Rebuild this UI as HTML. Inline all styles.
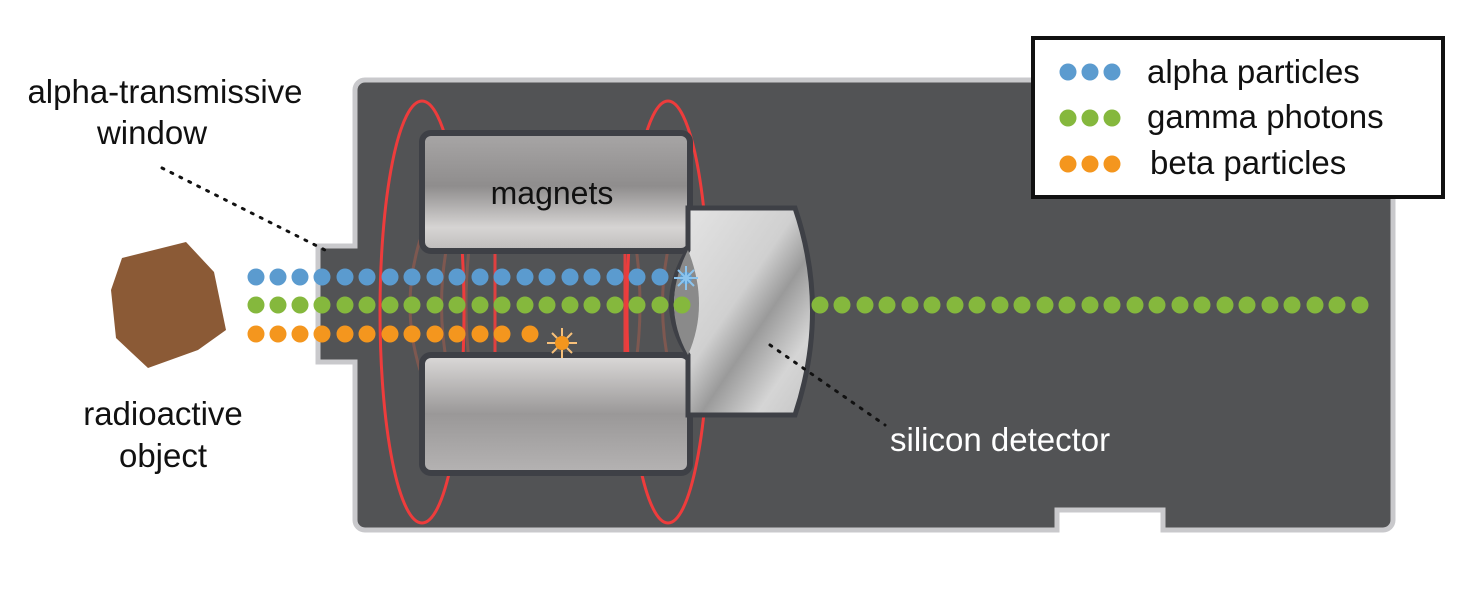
<!DOCTYPE html>
<html><head><style>
body{margin:0;background:#fff}
svg{display:block}
text{font-family:"Liberation Sans",sans-serif}
</style></head><body>
<svg width="1476" height="614" viewBox="0 0 1476 614" xmlns="http://www.w3.org/2000/svg">
<defs>
<linearGradient id="mg" x1="0" y1="0" x2="0" y2="1">
<stop offset="0" stop-color="#a8a6a6"/><stop offset="0.45" stop-color="#8f8d8d"/><stop offset="0.8" stop-color="#d6d4d3"/><stop offset="1" stop-color="#bebcbb"/></linearGradient>
<linearGradient id="mg2" x1="0" y1="0" x2="0" y2="1">
<stop offset="0" stop-color="#dcdad9"/><stop offset="0.5" stop-color="#9a9898"/><stop offset="1" stop-color="#b5b3b3"/></linearGradient>
<linearGradient id="dg" x1="0" y1="0" x2="1" y2="1">
<stop offset="0" stop-color="#e6e6e6"/><stop offset="0.45" stop-color="#d0d0d0"/><stop offset="0.6" stop-color="#9a9a9a"/><stop offset="0.8" stop-color="#d5d5d5"/><stop offset="1" stop-color="#c4c4c4"/></linearGradient>
</defs>
<path d="M365 80 H1383 a10 10 0 0 1 10 10 V520 a10 10 0 0 1 -10 10 H1163 V510 H1057 V530 H365 a10 10 0 0 1 -10 -10 V362 H318 V246 H355 V90 a10 10 0 0 1 10 -10Z" fill="#525355" stroke="#c9c9cc" stroke-width="5"/>
<g fill="none" stroke="#8a5a50" stroke-width="3" opacity="0.8">
<path d="M420 240 Q400 305 420 370"/><path d="M448 240 Q435 305 448 370"/><path d="M470 240 Q462 305 470 370"/>
<path d="M635 240 Q645 305 635 370"/><path d="M670 240 Q655 305 670 370"/>
</g>
<path d="M495 248 V357 M625 248 V357" stroke="#e04040" stroke-width="3"/>
<ellipse cx="422" cy="312" rx="42" ry="211" fill="none" stroke="#ee3c3c" stroke-width="3"/>
<ellipse cx="668" cy="312" rx="41" ry="211" fill="none" stroke="#ee3c3c" stroke-width="3"/>
<rect x="422" y="133" width="268" height="118" rx="9" fill="url(#mg)" stroke="#3e4046" stroke-width="6"/>
<rect x="422" y="355" width="268" height="118" rx="9" fill="url(#mg2)" stroke="#3e4046" stroke-width="6"/>
<text x="552" y="204" font-size="32" text-anchor="middle" fill="#111">magnets</text>
<path d="M688 208 H795 Q830 310 795 415 H688 V355 Q655 305 688 250Z" fill="url(#dg)" stroke="#3e4046" stroke-width="5"/>
<path d="M688 250 Q660 305 688 355 Q710 305 688 250Z" fill="#8a8a8a"/>
<g fill="#5b9bcf">
<circle cx="256" cy="277" r="8.5"/><circle cx="278" cy="277" r="8.5"/><circle cx="300" cy="277" r="8.5"/><circle cx="322" cy="277" r="8.5"/><circle cx="345" cy="277" r="8.5"/><circle cx="367" cy="277" r="8.5"/><circle cx="390" cy="277" r="8.5"/><circle cx="412" cy="277" r="8.5"/><circle cx="435" cy="277" r="8.5"/><circle cx="457" cy="277" r="8.5"/><circle cx="480" cy="277" r="8.5"/><circle cx="502" cy="277" r="8.5"/><circle cx="525" cy="277" r="8.5"/><circle cx="547" cy="277" r="8.5"/><circle cx="570" cy="277" r="8.5"/><circle cx="592" cy="277" r="8.5"/><circle cx="615" cy="277" r="8.5"/><circle cx="637" cy="277" r="8.5"/><circle cx="660" cy="277" r="8.5"/><circle cx="686" cy="278" r="6"/>
</g>
<g stroke="#8cc4ee" stroke-width="2"><path d="M686 266V290M674 278H698M678 270L694 286M694 270L678 286"/></g>
<g fill="#f4961e">
<circle cx="256" cy="334" r="8.5"/><circle cx="278" cy="334" r="8.5"/><circle cx="300" cy="334" r="8.5"/><circle cx="322" cy="334" r="8.5"/><circle cx="345" cy="334" r="8.5"/><circle cx="367" cy="334" r="8.5"/><circle cx="390" cy="334" r="8.5"/><circle cx="412" cy="334" r="8.5"/><circle cx="435" cy="334" r="8.5"/><circle cx="457" cy="334" r="8.5"/><circle cx="480" cy="334" r="8.5"/><circle cx="502" cy="334" r="8.5"/><circle cx="530" cy="334" r="8.5"/><circle cx="562" cy="343" r="7"/>
</g>
<g stroke="#f7c07a" stroke-width="2"><path d="M562 328V336M562 350V358M547 343H555M569 343H577M552 333L557 338M567 348L572 353M572 333L567 338M557 348L552 353"/></g>
<g fill="#85b83d">
<circle cx="256" cy="305" r="8.5"/><circle cx="278" cy="305" r="8.5"/><circle cx="300" cy="305" r="8.5"/><circle cx="322" cy="305" r="8.5"/><circle cx="345" cy="305" r="8.5"/><circle cx="367" cy="305" r="8.5"/><circle cx="390" cy="305" r="8.5"/><circle cx="412" cy="305" r="8.5"/><circle cx="435" cy="305" r="8.5"/><circle cx="457" cy="305" r="8.5"/><circle cx="480" cy="305" r="8.5"/><circle cx="502" cy="305" r="8.5"/><circle cx="525" cy="305" r="8.5"/><circle cx="547" cy="305" r="8.5"/><circle cx="570" cy="305" r="8.5"/><circle cx="592" cy="305" r="8.5"/><circle cx="615" cy="305" r="8.5"/><circle cx="637" cy="305" r="8.5"/><circle cx="660" cy="305" r="8.5"/><circle cx="682" cy="305" r="8.5"/>
<circle cx="820" cy="305" r="8.5"/><circle cx="842" cy="305" r="8.5"/><circle cx="865" cy="305" r="8.5"/><circle cx="887" cy="305" r="8.5"/><circle cx="910" cy="305" r="8.5"/><circle cx="932" cy="305" r="8.5"/><circle cx="955" cy="305" r="8.5"/><circle cx="977" cy="305" r="8.5"/><circle cx="1000" cy="305" r="8.5"/><circle cx="1022" cy="305" r="8.5"/><circle cx="1045" cy="305" r="8.5"/><circle cx="1067" cy="305" r="8.5"/><circle cx="1090" cy="305" r="8.5"/><circle cx="1112" cy="305" r="8.5"/><circle cx="1135" cy="305" r="8.5"/><circle cx="1157" cy="305" r="8.5"/><circle cx="1180" cy="305" r="8.5"/><circle cx="1202" cy="305" r="8.5"/><circle cx="1225" cy="305" r="8.5"/><circle cx="1247" cy="305" r="8.5"/><circle cx="1270" cy="305" r="8.5"/><circle cx="1292" cy="305" r="8.5"/><circle cx="1315" cy="305" r="8.5"/><circle cx="1337" cy="305" r="8.5"/><circle cx="1360" cy="305" r="8.5"/>
</g>
<polygon points="122,258 186,242 214,272 226,330 198,350 148,368 116,338 111,290" fill="#8b5a36"/>
<text x="165" y="103" font-size="33" text-anchor="middle" fill="#111">alpha-transmissive</text>
<text x="152" y="144" font-size="33" text-anchor="middle" fill="#111">window</text>
<line x1="162" y1="168" x2="325" y2="250" stroke="#111" stroke-width="3" stroke-dasharray="2 8" stroke-linecap="round"/>
<text x="163" y="425" font-size="33" text-anchor="middle" fill="#111">radioactive</text>
<text x="163" y="467" font-size="33" text-anchor="middle" fill="#111">object</text>
<line x1="770" y1="345" x2="885" y2="425" stroke="#111" stroke-width="3" stroke-dasharray="2 8" stroke-linecap="round"/>
<text x="890" y="451" font-size="33" fill="#fff">silicon detector</text>
<rect x="1033" y="38" width="410" height="159" fill="#fff" stroke="#111" stroke-width="4"/>
<g fill="#5b9bcf"><circle cx="1068" cy="72" r="8.5"/><circle cx="1090" cy="72" r="8.5"/><circle cx="1112" cy="72" r="8.5"/></g>
<g fill="#85b83d"><circle cx="1068" cy="118" r="8.5"/><circle cx="1090" cy="118" r="8.5"/><circle cx="1112" cy="118" r="8.5"/></g>
<g fill="#f4961e"><circle cx="1068" cy="164" r="8.5"/><circle cx="1090" cy="164" r="8.5"/><circle cx="1112" cy="164" r="8.5"/></g>
<text x="1147" y="83" font-size="33" fill="#111">alpha particles</text>
<text x="1147" y="128" font-size="33" fill="#111">gamma photons</text>
<text x="1150" y="174" font-size="33" fill="#111">beta particles</text>
</svg>
</body></html>
